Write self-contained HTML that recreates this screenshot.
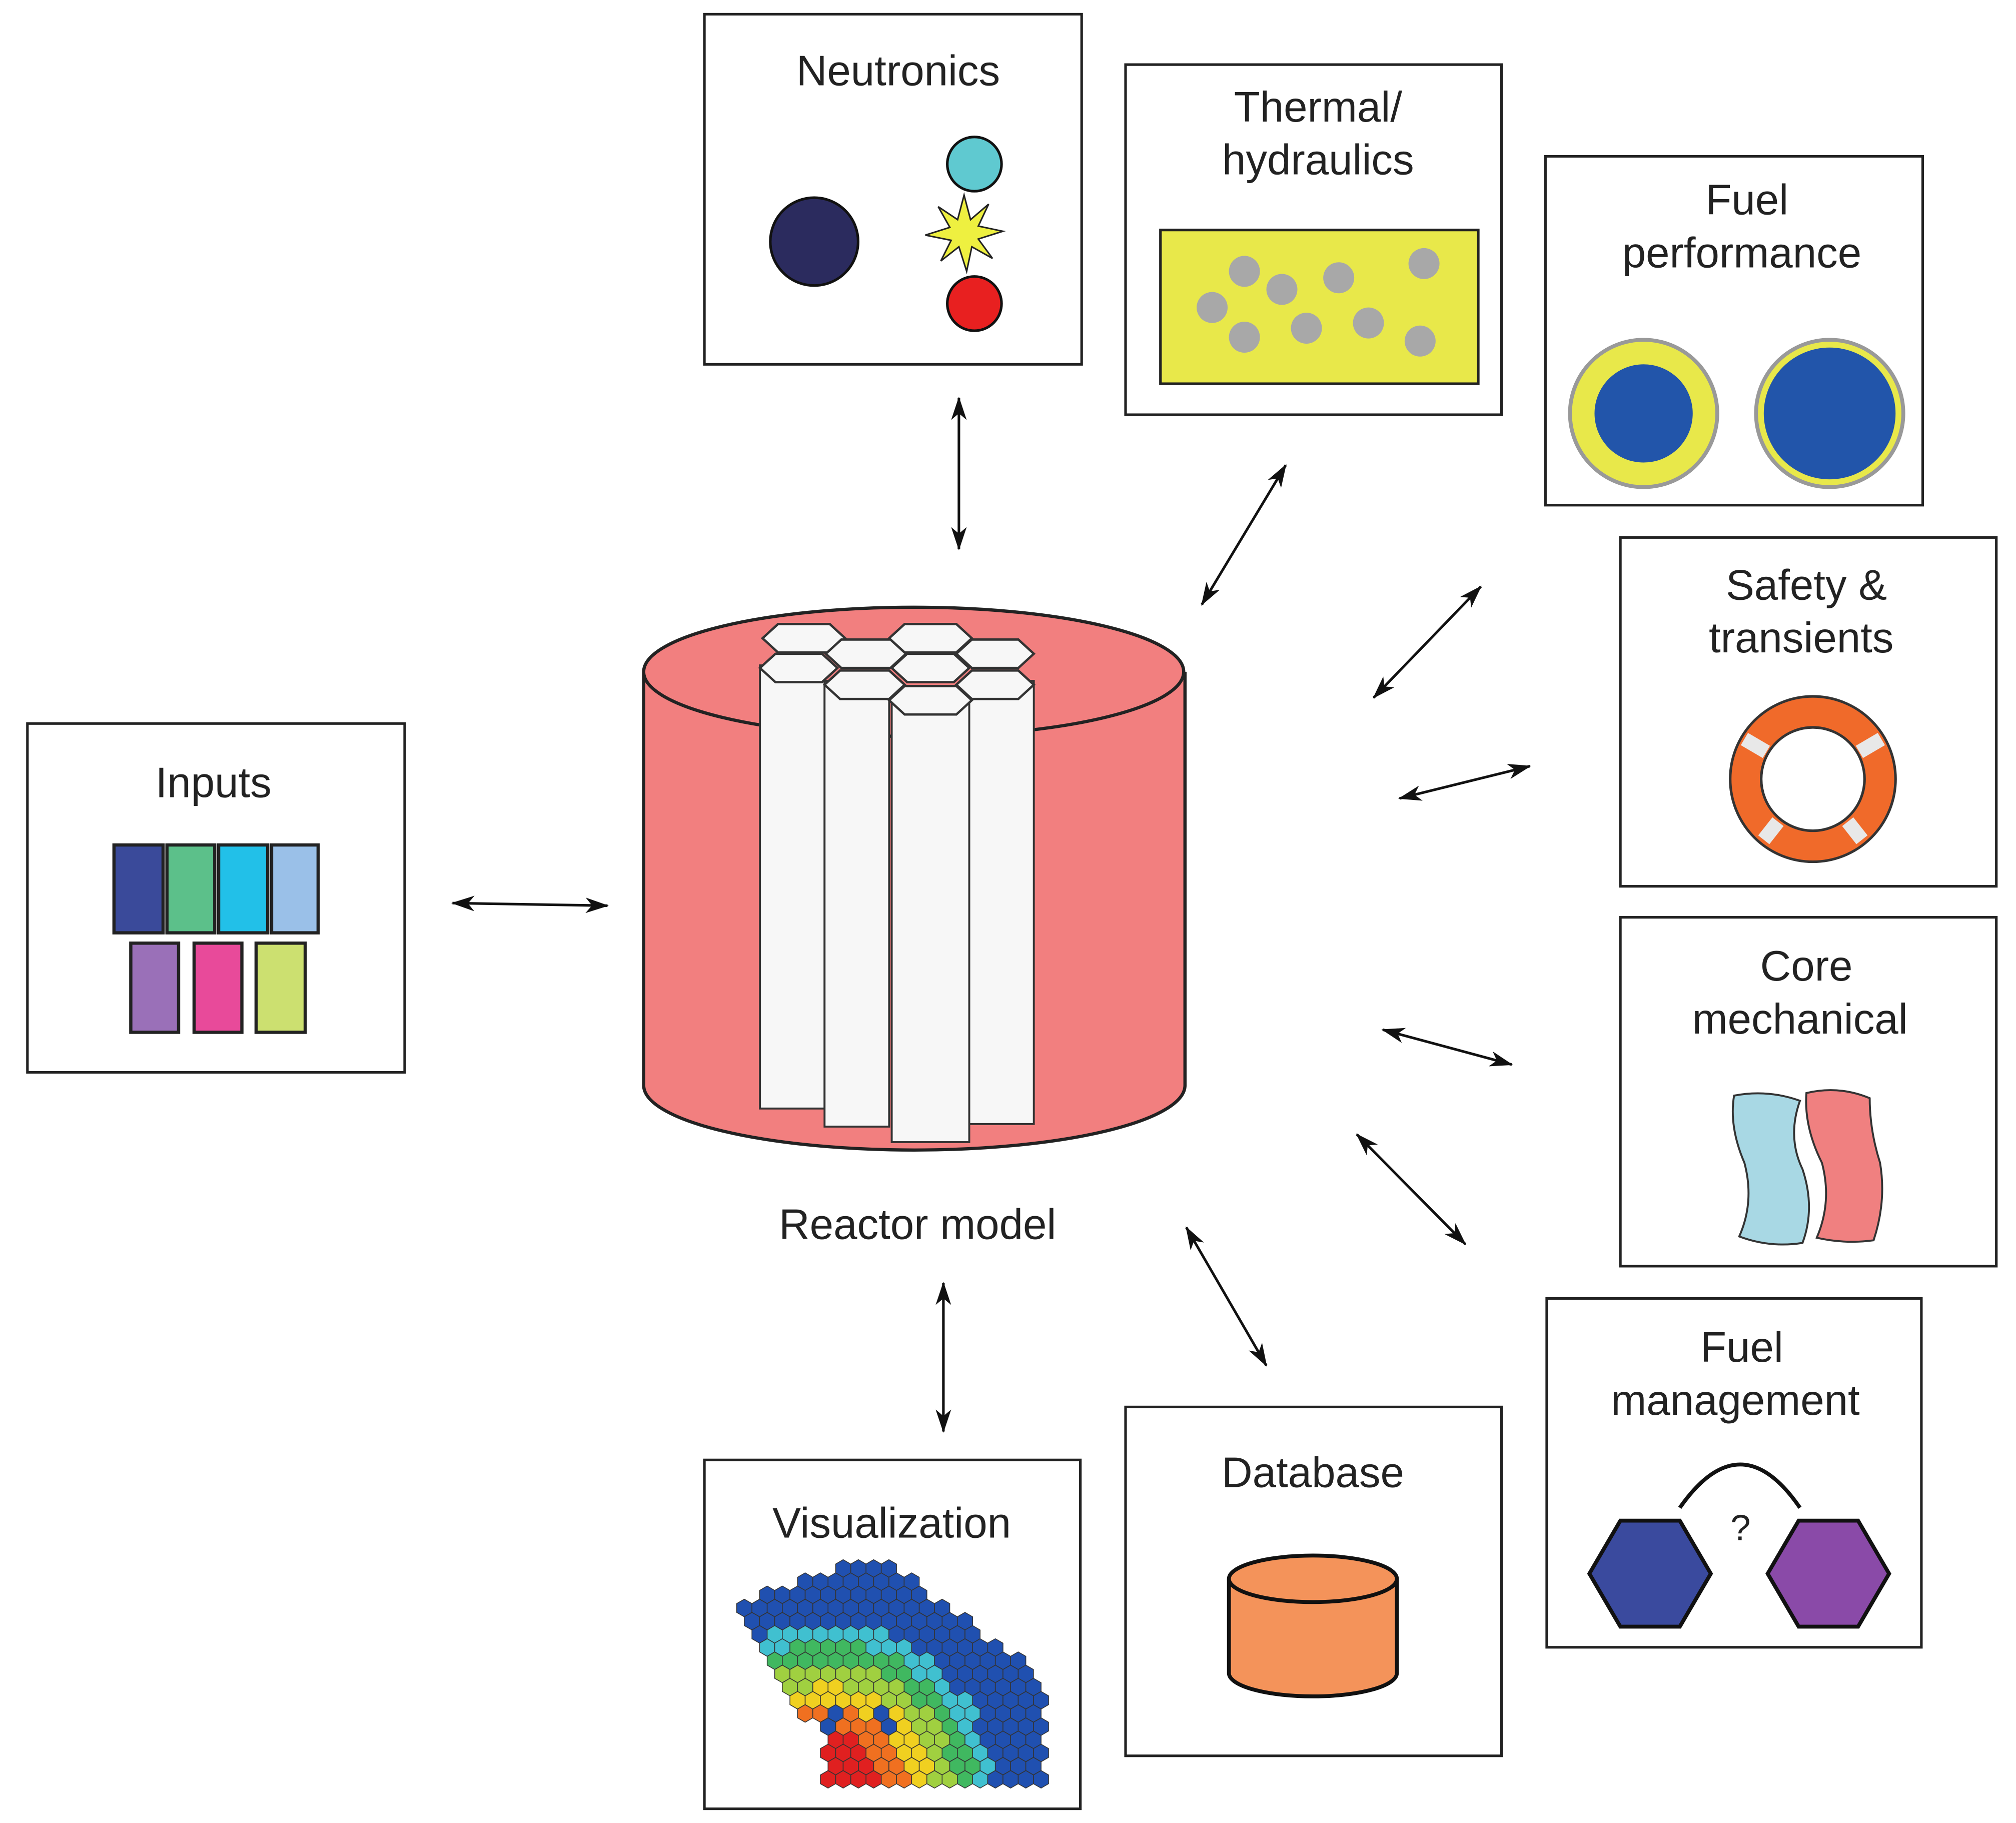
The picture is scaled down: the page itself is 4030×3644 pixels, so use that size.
<!DOCTYPE html>
<html><head><meta charset="utf-8"><style>
html,body{margin:0;padding:0;background:#fff}
svg{display:block}
text{font-family:"Liberation Sans",sans-serif;font-size:33px;fill:#222;text-anchor:middle}
</style></head><body>
<svg width="4030" height="3644" viewBox="0 0 1560 1411" xmlns="http://www.w3.org/2000/svg">
<defs>
<marker id="ah" viewBox="0 0 18 12" refX="17" refY="6" markerWidth="18" markerHeight="12" markerUnits="userSpaceOnUse" orient="auto-start-reverse">
<path d="M0,0 L18,6 L0,12 L5,6 Z" fill="#111"/></marker>
</defs>
<g fill="#fff" stroke="#222" stroke-width="2">
<rect x="545" y="11" width="292" height="271"/>
<rect x="871" y="50" width="291" height="271"/>
<rect x="1196" y="121" width="292" height="270"/>
<rect x="1254" y="416" width="291" height="270"/>
<rect x="1254" y="710" width="291" height="270"/>
<rect x="1197" y="1005" width="290" height="270"/>
<rect x="871" y="1089" width="291" height="270"/>
<rect x="545" y="1130" width="291" height="270"/>
<rect x="21" y="560" width="292" height="270"/>
</g>
<text x="695" y="66">Neutronics</text>
<text x="1020" y="94">Thermal/</text><text x="1020" y="135">hydraulics</text>
<text x="1352" y="166">Fuel</text><text x="1348" y="207">performance</text>
<text x="1398" y="464">Safety &amp;</text><text x="1394" y="505">transients</text>
<text x="1398" y="759">Core</text><text x="1393" y="800">mechanical</text>
<text x="1348" y="1054">Fuel</text><text x="1343" y="1095">management</text>
<text x="1016" y="1151">Database</text>
<text x="690" y="1190">Visualization</text>
<text x="165" y="617">Inputs</text>
<text x="710" y="959">Reactor model</text>
<!-- neutronics -->
<circle cx="630" cy="187" r="34" fill="#2b2b5e" stroke="#111" stroke-width="2"/>
<circle cx="754" cy="127" r="21" fill="#5fc9d0" stroke="#111" stroke-width="2"/>
<circle cx="754" cy="235" r="21" fill="#e82020" stroke="#111" stroke-width="2"/>
<polygon points="746,151 751,170 765,158 757,175 776,179 757,185 768,200 752,191 748,210 742,191 728,202 736,186 716,182 735,176 726,160 741,170" fill="#eef040" stroke="#222" stroke-width="1.2"/>
<!-- thermal -->
<rect x="898" y="178" width="246" height="119" fill="#e8e84a" stroke="#222" stroke-width="2"/>
<g fill="#a8a8a8"><circle cx="963" cy="210" r="12"/><circle cx="992" cy="224" r="12"/><circle cx="1036" cy="215" r="12"/><circle cx="1102" cy="204" r="12"/><circle cx="938" cy="238" r="12"/><circle cx="963" cy="261" r="12"/><circle cx="1011" cy="254" r="12"/><circle cx="1059" cy="250" r="12"/><circle cx="1099" cy="264" r="12"/></g>
<!-- fuel perf -->
<circle cx="1272" cy="320" r="57" fill="#e8e84a" stroke="#999" stroke-width="3"/>
<circle cx="1272" cy="320" r="38" fill="#2255aa"/>
<circle cx="1416" cy="320" r="57" fill="#e8e84a" stroke="#999" stroke-width="3"/>
<circle cx="1416" cy="320" r="51" fill="#2255aa"/>
<!-- life ring -->
<circle cx="1403" cy="603" r="52" fill="none" stroke="#f06a2a" stroke-width="24"/>
<g stroke="#e8e8e8" stroke-width="11">
<line x1="1367" y1="582" x2="1350" y2="572"/><line x1="1439" y1="582" x2="1456" y2="572"/>
<line x1="1376" y1="636" x2="1365" y2="650"/><line x1="1430" y1="636" x2="1441" y2="650"/></g>
<circle cx="1403" cy="603" r="64" fill="none" stroke="#333" stroke-width="2"/>
<circle cx="1403" cy="603" r="40" fill="none" stroke="#333" stroke-width="2"/>
<!-- core mechanical -->
<path d="M1342,848 Q1368,843 1393,852 Q1383,880 1395,905 Q1405,935 1395,962 Q1370,966 1346,957 Q1358,930 1350,900 Q1338,872 1342,848Z" fill="#a8d8e4" stroke="#333" stroke-width="1.5"/>
<path d="M1398,846 Q1423,840 1447,850 Q1447,875 1455,900 Q1460,930 1450,960 Q1428,963 1406,958 Q1418,930 1410,900 Q1396,872 1398,846Z" fill="#f08080" stroke="#333" stroke-width="1.5"/>
<!-- fuel management -->
<path d="M1300,1167 Q1347,1100 1393,1167" fill="none" stroke="#111" stroke-width="3"/>
<text x="1347" y="1192" style="font-size:28px">?</text>
<polygon points="1230,1218 1254,1177 1300,1177 1324,1218 1300,1259 1254,1259" fill="#3a4a9e" stroke="#111" stroke-width="3"/>
<polygon points="1368,1218 1392,1177 1438,1177 1462,1218 1438,1259 1392,1259" fill="#8a4aa8" stroke="#111" stroke-width="3"/>
<!-- database -->
<path d="M951,1222 L951,1295 A65,18 0 0 0 1081,1295 L1081,1222" fill="#f4935a" stroke="#111" stroke-width="3"/>
<ellipse cx="1016" cy="1222" rx="65" ry="18" fill="#f4935a" stroke="#111" stroke-width="3"/>
<!-- inputs -->
<g stroke="#222" stroke-width="2.5">
<rect x="88" y="654" width="38" height="68" fill="#3a4a9a"/><rect x="129" y="654" width="37" height="68" fill="#5cc08a"/>
<rect x="169" y="654" width="38" height="68" fill="#22c0e8"/><rect x="210" y="654" width="36" height="68" fill="#9ac0e8"/>
<rect x="101" y="730" width="37" height="69" fill="#9a70b8"/><rect x="150" y="730" width="37" height="69" fill="#e84a9a"/>
<rect x="198" y="730" width="38" height="69" fill="#cce070"/></g>
<!-- reactor -->
<path d="M498,520 L498,840 A209,50 0 0 0 917,840 L917,520" fill="#f27f7f" stroke="#222" stroke-width="2.5"/>
<ellipse cx="707" cy="520" rx="209" ry="50" fill="#f27f7f" stroke="#222" stroke-width="2.5"/>
<g fill="#f7f7f7" stroke="#333" stroke-width="1.5">
<rect x="588" y="515" width="50" height="343"/>
<rect x="750" y="527" width="50" height="343"/>
<rect x="638" y="527" width="50" height="345"/>
<rect x="690" y="545" width="60" height="339"/>
</g>
<g fill="#f7f7f7" stroke="#333" stroke-width="1.8">
<polygon points="590,494 602,483 642,483 654,494 642,505 602,505"/>
<polygon points="688,494 700,483 740,483 752,494 740,505 700,505"/>
<polygon points="639,506 651,495 689,495 701,506 689,517 651,517"/>
<polygon points="740,506 752,495 788,495 800,506 788,517 752,517"/>
<polygon points="588,517 600,506 636,506 648,517 636,528 600,528"/>
<polygon points="690,517 702,506 738,506 750,517 738,528 702,528"/>
<polygon points="638,530 650,519 688,519 700,530 688,541 650,541"/>
<polygon points="740,530 752,519 788,519 800,530 788,541 752,541"/>
<polygon points="688,542 700,531 740,531 752,542 740,553 700,553"/>
</g>
<!-- arrows -->
<g stroke="#111" stroke-width="2" marker-start="url(#ah)" marker-end="url(#ah)">
<line x1="742" y1="308" x2="742" y2="425"/>
<line x1="995" y1="360" x2="930" y2="468"/>
<line x1="1146" y1="454" x2="1063" y2="540"/>
<line x1="1184" y1="593" x2="1083" y2="618"/>
<line x1="1070" y1="797" x2="1170" y2="824"/>
<line x1="1050" y1="878" x2="1134" y2="963"/>
<line x1="918" y1="950" x2="980" y2="1057"/>
<line x1="730" y1="993" x2="730" y2="1108"/>
<line x1="350" y1="699" x2="470" y2="701"/>
</g>
<g id="map"></g>
</svg>
<script>
(function(){
var g=document.getElementById('map'),s='';
var r=6.8,dx=r*1.732,dy=r*1.5;
function inside(x,y){
 if(y<1213||y>1386)return false;
 if(x>806)return false;
 if(y<1300 && x>700+(y-1220)*1.35) return false;
 if(x<570+(y-1240)*0.5) return false;
 if(y<1240 && x<570+(1240-y)*2.8) return false;
 if(y>1330 && x<635) return false;
 return true;}
for(var j=0;j<25;j++){var y=1214+j*dy;for(var i=0;i<25;i++){var x=570+i*dx+(j%2?dx/2:0);
 if(!inside(x,y))continue;
 var d=Math.hypot(x-640,(y-1385)*1.0);
 var c=d<45?'#e02020':d<62?'#f07020':d<80?'#f0d020':d<98?'#a0d040':d<114?'#40b860':d<128?'#40c0d0':'#2050b0';
 if(Math.abs(x-683)<7&&Math.abs(y-1332)<6)c='#2050b0';
 if(Math.abs(x-645)<7&&Math.abs(y-1332)<6)c='#2050b0';
 var p=[];for(var k=0;k<6;k++){var a=Math.PI/3*k+Math.PI/6;p.push((x+r*Math.cos(a)).toFixed(1)+','+(y+r*Math.sin(a)).toFixed(1));}
 s+='<polygon points="'+p.join(' ')+'" fill="'+c+'" stroke="#333" stroke-width="0.6"/>';}}
g.innerHTML=s;})();
</script>
</body></html>
